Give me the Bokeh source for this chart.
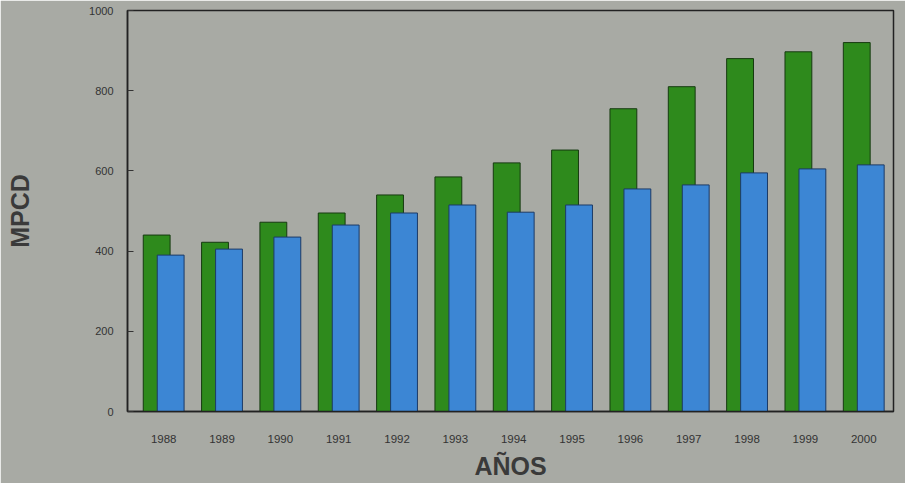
from bokeh.plotting import figure
from bokeh.models import Range1d, FixedTicker, ColumnDataSource
from bokeh.embed import file_html
from bokeh.resources import INLINE

years = ["1988", "1989", "1990", "1991", "1992", "1993", "1994",
         "1995", "1996", "1997", "1998", "1999", "2000"]
green_vals = [440, 422, 472, 495, 540, 585, 620, 652, 755, 810, 880, 897, 920]
blue_vals = [390, 405, 435, 465, 495, 515, 497, 515, 555, 565, 595, 605, 615]
y_ticks = [0, 200, 400, 600, 800, 1000]

idx = list(range(len(years)))
src = ColumnDataSource(dict(
    xg=[i - 0.12 for i in idx],
    xb=[i + 0.12 for i in idx],
    g=green_vals,
    b=blue_vals,
))

BG = "#a8aaa4"
p = figure(width=905, height=483, output_backend="svg", toolbar_location=None,
           x_range=Range1d(-0.62, 12.51), y_range=Range1d(0, 1000),
           min_border_left=127, min_border_right=12, min_border_top=10,
           min_border_bottom=72)
p.background_fill_color = BG
p.border_fill_color = BG
p.outline_line_color = "#222222"
p.outline_line_width = 1.5
p.xgrid.visible = False
p.ygrid.visible = False

p.vbar(x="xg", top="g", bottom=0, width=0.46, source=src,
       fill_color="#2e8a1c", line_color="#163a10", line_width=1)
p.vbar(x="xb", top="b", bottom=0, width=0.46, source=src,
       fill_color="#3c86d4", line_color="#1c3a66", line_width=1)

# x axis
p.xaxis.ticker = FixedTicker(ticks=idx)
p.xaxis.major_label_overrides = {i: y for i, y in enumerate(years)}
p.xaxis.major_tick_line_color = None
p.xaxis.minor_tick_line_color = None
p.xaxis.axis_line_color = "#222222"
p.xaxis.axis_line_width = 1.5
p.xaxis.major_label_standoff = 17
p.xaxis.major_label_text_font = "Liberation Sans"
p.xaxis.major_label_text_font_size = "11.5px"
p.xaxis.major_label_text_color = "#333333"
p.xaxis.axis_label = "AÑOS"
p.xaxis.axis_label_text_font = "Liberation Sans"
p.xaxis.axis_label_text_font_style = "bold"
p.xaxis.axis_label_text_font_size = "25px"
p.xaxis.axis_label_text_color = "#3a3a3a"
p.xaxis.axis_label_standoff = 6

# y axis
p.yaxis.ticker = FixedTicker(ticks=y_ticks)
p.yaxis.major_tick_in = 6
p.yaxis.major_tick_out = 0
p.yaxis.minor_tick_line_color = None
p.yaxis.major_tick_line_color = "#333333"
p.yaxis.axis_line_color = "#222222"
p.yaxis.axis_line_width = 1.5
p.yaxis.major_label_standoff = 14
p.yaxis.major_label_text_font = "Liberation Sans"
p.yaxis.major_label_text_font_size = "11px"
p.yaxis.major_label_text_color = "#333333"
p.yaxis.axis_label = "MPCD"
p.yaxis.axis_label_text_font = "Liberation Sans"
p.yaxis.axis_label_text_font_style = "bold"
p.yaxis.axis_label_text_font_size = "25px"
p.yaxis.axis_label_text_color = "#3a3a3a"
p.yaxis.axis_label_standoff = 52

open("out.html", "w").write(file_html(p, INLINE))
